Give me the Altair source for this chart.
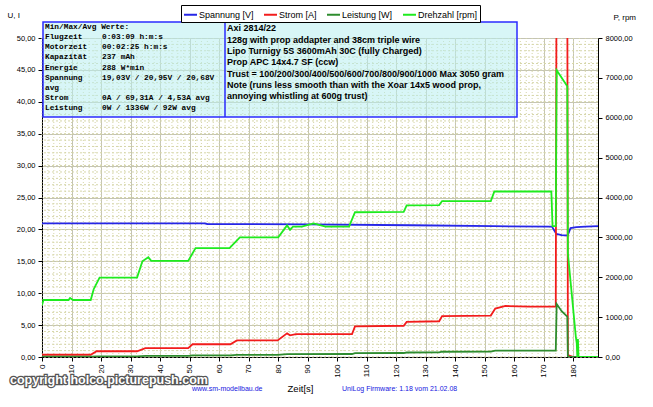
import altair as alt
import numpy as np
import pandas as pd

series_names = ["Spannung [V]", "Strom [A]", "Leistung [W]", "Drehzahl [rpm]"]
series_colors = ["#2626E6", "#F21C1C", "#2E8C2E", "#1EEB1E"]

# Spannung [V] (left axis)
t_volt = [0, 55, 56, 90, 125, 153, 172.7, 174.2, 176, 178, 179, 181, 184, 188.3]
volt = [20.95, 20.95, 20.85, 20.8, 20.65, 20.5, 20.45, 19.3, 19.1, 19.05, 20.2, 20.35, 20.45, 20.5]

# Strom [A] (left axis)
t_curr = [0, 16.5, 18.5, 32.2, 35, 49.5, 51, 63.8, 66, 79.8, 83, 84, 86, 105, 106, 122.5, 123.5,
          134.5, 135.5, 152, 153.5, 157, 165, 174.0, 174.3, 177.9, 178.1, 180, 188.3]
curr = [0.35, 0.35, 0.9, 0.9, 1.4, 1.4, 2.0, 2.0, 2.6, 2.6, 3.7, 3.4, 3.6, 3.6, 4.8, 4.9, 5.5,
        5.6, 6.4, 6.5, 7.6, 8.0, 7.9, 7.9, 69.3, 60.0, 0.3, 0.0, 0.0]

# Leistung [W] (right axis)
t_pow = [0, 16.5, 18.5, 32.2, 35, 49.5, 51, 63.8, 66, 79.8, 83, 105, 106, 122.5, 123.5,
         134.5, 135.5, 152, 153.5, 174.0, 174.3, 176, 177.9, 178.1, 188.3]
power = [6, 6, 18, 18, 29, 29, 41, 41, 53, 53, 74, 75, 99, 100, 113,
         115, 132, 133, 158, 160, 1330, 1150, 1010, 0, 0]

# Drehzahl [rpm] (right axis)
t_rpm = [0, 0.5, 9, 9.5, 10.5, 16.5, 17.5, 19.5, 32.2, 34, 36, 37, 49.5, 52, 63.5, 67,
         80, 83, 84, 85, 88, 92, 96, 104, 106, 122.5, 123.5, 134.5, 135.5, 152, 153.2,
         172.5, 172.9, 174.0, 174.3, 177.9, 178.1, 179, 180.8, 181.1, 181.3, 181.5, 181.7, 188.3]
rpm = [1300, 1430, 1430, 1480, 1430, 1430, 1700, 1990, 1990, 2400, 2500, 2410, 2410, 2730, 2730, 3000,
       3000, 3300, 3190, 3270, 3270, 3350, 3270, 3270, 3630, 3640, 3800, 3810, 3910, 3910, 4150,
       4150, 3280, 3280, 7190, 6790, 2600, 1900, 500, 350, 0, 450, 0, 0]

x_ticks = list(range(0, 181, 10))
y_left_ticks = list(range(0, 51, 5))
y_right_ticks = list(range(0, 8001, 1000))

left_lines = ["Min/Max/Avg Werte:", "Flugzeit", "Motorzeit", "Kapazität", "Energie",
              "Spannung", "avg", "Strom", "Leistung"]
left_values = ["", "0:03:09 h:m:s", "00:02:25 h:m:s", "237 mAh", "288 W*min",
               "19,03V / 20,95V / 20,68V", "", "0A / 69,31A / 4,53A avg", "0W / 1336W / 92W avg"]
note_lines = ["Axi 2814/22",
              "128g with prop addapter and 38cm triple wire",
              "Lipo Turnigy 5S 3600mAh 30C (fully Charged)",
              "Prop APC 14x4.7 SF  (ccw)",
              "Trust = 100/200/300/400/500/600/700/800/900/1000 Max 3050 gram",
              "Note (runs less smooth than with the Xoar 14x5 wood prop,",
              "annoying whistling at 600g trust)"]

X_MAX = 188.3
TOP = 38  # plot top in page pixels

df_left = pd.concat([
    pd.DataFrame({"t": t_volt, "v": volt, "series": series_names[0]}),
    pd.DataFrame({"t": t_curr, "v": curr, "series": series_names[1]}),
])
df_right = pd.concat([
    pd.DataFrame({"t": t_pow, "r": power, "series": series_names[2]}),
    pd.DataFrame({"t": t_rpm, "r": rpm, "series": series_names[3]}),
])

FONT = "Liberation Sans"
comma2 = "replace(format(datum.value, '.2f'), '.', ',')"

x_axis = alt.Axis(values=x_ticks, labelAngle=270, labelFontSize=8, labelColor="black",
                  labelPadding=3, tickSize=4, tickColor="black", domainColor="black",
                  grid=True, gridColor="#C4C4B4", title="Zeit[s]", titleX=258, titleY=31,
                  titleFontSize=9.5, titleFontWeight="normal", titleAlign="center",
                  titleBaseline="middle", titleColor="black")
xenc = alt.X("t:Q", scale=alt.Scale(domain=[0, X_MAX], nice=False, zero=False), axis=x_axis)

left_axis = alt.Axis(values=y_left_ticks, labelExpr=comma2, labelFontSize=7.5, labelColor="black",
                     labelPadding=3, tickSize=4, tickColor="black", domainColor="black",
                     grid=True, gridColor="#C4C4B4", title="U, I", titleAngle=0, titleX=-35,
                     titleY=-23, titleAlign="left", titleBaseline="middle", titleFontSize=8,
                     titleFontWeight="normal", titleColor="black")
yl = alt.Y("v:Q", scale=alt.Scale(domain=[0, 50], nice=False), axis=left_axis)

right_axis = alt.Axis(orient="right", values=y_right_ticks, labelExpr=comma2, labelFontSize=7.5,
                      labelColor="black", labelPadding=3, tickSize=4, tickColor="black",
                      domainColor="black", grid=False, title="P, rpm", titleAngle=0, titleX=15,
                      titleY=-21, titleAlign="left", titleBaseline="middle", titleFontSize=8,
                      titleFontWeight="normal", titleColor="black")
yr = alt.Y("r:Q", scale=alt.Scale(domain=[0, 8000], nice=False), axis=right_axis)

legend = alt.Legend(orient="none", legendX=139, legendY=-33, direction="horizontal", title=None,
                    symbolType="stroke", symbolStrokeWidth=2, symbolSize=169, labelFont=FONT,
                    labelFontSize=9, labelColor="black", fillColor="white", strokeColor="black",
                    padding=2, columnPadding=6, labelOffset=1)
color = alt.Color("series:N", scale=alt.Scale(domain=series_names, range=series_colors),
                  legend=legend)

# minor dotted grid
minor_x = pd.DataFrame({"t": np.arange(0, X_MAX, 2.0)})
minor_y = pd.DataFrame({"v": np.arange(0, 50, 1.0)})
grid_vx = alt.Chart(minor_x).mark_rule(color="#D6D6A8", strokeWidth=1, strokeDash=[1, 2]).encode(x=xenc)
grid_hy = alt.Chart(minor_y).mark_rule(color="#D6D6A8", strokeWidth=1, strokeDash=[2, 2]).encode(y=yl)

lines_left = alt.Chart(df_left).mark_line(strokeWidth=1.8, clip=True).encode(
    x=xenc, y=yl, color=color)
lines_right = alt.Chart(df_right).mark_line(strokeWidth=1.8, clip=True).encode(
    x=xenc, y=yr, color=color)

one = pd.DataFrame({"k": [0]})
shadow = alt.Chart(one).mark_rect(fill="#222222").encode(
    x=alt.value(143), x2=alt.value(431), y=alt.value(-30), y2=alt.value(-15.5))
box = alt.Chart(one).mark_rect(fill="#B8EEF0", fillOpacity=0.55, stroke="#2B2BFF",
                               strokeWidth=1.5).encode(
    x=alt.value(1), x2=alt.value(475), y=alt.value(-16), y2=alt.value(79))
divider = alt.Chart(one).mark_rule(color="#2B2BFF", strokeWidth=1.5).encode(
    x=alt.value(183), y=alt.value(-16), y2=alt.value(79))


def text_layer(s, x, y, colour="black", **kw):
    return alt.Chart(pd.DataFrame({"txt": [s]})).mark_text(
        align="left", baseline="middle", color=colour, **kw).encode(
        x=alt.value(x), y=alt.value(y), text="txt:N")


text_layers = []
for i, s in enumerate(left_lines):
    text_layers.append(text_layer(s, 3, 26.7 + 10.2 * i - TOP, font="Liberation Mono",
                                  fontSize=7.8, fontWeight="bold"))
for i, s in enumerate(left_values):
    if s:
        text_layers.append(text_layer(s, 60, 26.7 + 10.2 * i - TOP, font="Liberation Mono",
                                      fontSize=7.8, fontWeight="bold"))
for i, s in enumerate(note_lines):
    text_layers.append(text_layer(s, 185, 28.4 + 11.3 * i - TOP, font=FONT, fontSize=9.0,
                                  fontWeight="bold"))

copy_df = pd.DataFrame({"txt": ["copyright holco.picturepush.com"]})
copy_outline = alt.Chart(copy_df).mark_text(font=FONT, fontSize=12.5, fontWeight="bold",
                                            align="left", baseline="middle", fill="white",
                                            stroke="#555555", strokeWidth=2.5).encode(
    x=alt.value(-32), y=alt.value(342), text="txt:N")
copy_fill = alt.Chart(copy_df).mark_text(font=FONT, fontSize=12.5, fontWeight="bold",
                                         align="left", baseline="middle", color="white").encode(
    x=alt.value(-32), y=alt.value(342), text="txt:N")
www = text_layer("www.sm-modellbau.de", 150, 351, colour="#1515E0", font=FONT, fontSize=7)
fw = text_layer("UniLog Firmware: 1.18 vom 21.02.08", 300, 351, colour="#1515E0", font=FONT,
                fontSize=7)

left_group = alt.layer(grid_vx, grid_hy, lines_left)
right_group = alt.layer(lines_right, shadow, box, divider, *text_layers,
                        copy_outline, copy_fill, www, fw)

chart = alt.layer(left_group, right_group).resolve_scale(y="independent").properties(
    width=556, height=319,
    padding={"left": 42, "top": TOP, "right": 55, "bottom": 50},
    autosize=alt.AutoSizeParams(type="none"),
    background="white",
).configure_view(fill="#FFFFCC", stroke=None).configure(font=FONT)

chart.save("out.html", embed_options={"renderer": "svg", "actions": False})
